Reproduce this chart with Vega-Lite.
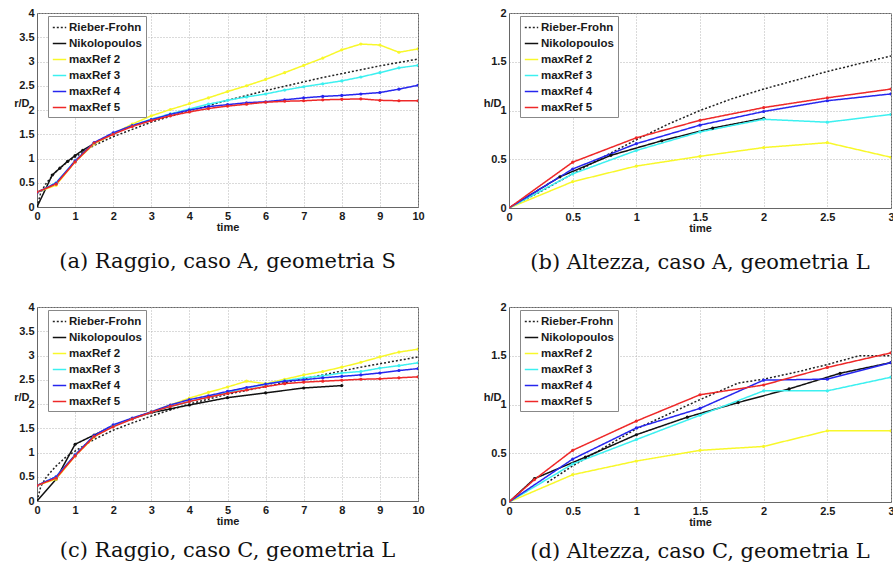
{
  "$schema": "https://vega.github.io/schema/vega-lite/v6.json",
  "padding": {"left": 13, "top": 6, "right": 0, "bottom": 0},
  "background": "white",
  "datasets": {
    "a": [
      {"s":"Rieber-Frohn","t":0,"v":0},{"s":"Rieber-Frohn","t":0.1,"v":0.3},{"s":"Rieber-Frohn","t":0.25,"v":0.5},{"s":"Rieber-Frohn","t":0.5,"v":0.73},{"s":"Rieber-Frohn","t":0.75,"v":0.9},{"s":"Rieber-Frohn","t":1,"v":1.03},{"s":"Rieber-Frohn","t":1.5,"v":1.27},{"s":"Rieber-Frohn","t":2,"v":1.45},{"s":"Rieber-Frohn","t":2.5,"v":1.6},{"s":"Rieber-Frohn","t":3,"v":1.75},{"s":"Rieber-Frohn","t":3.5,"v":1.87},{"s":"Rieber-Frohn","t":4,"v":1.98},{"s":"Rieber-Frohn","t":4.5,"v":2.09},{"s":"Rieber-Frohn","t":5,"v":2.2},{"s":"Rieber-Frohn","t":5.5,"v":2.3},{"s":"Rieber-Frohn","t":6,"v":2.4},{"s":"Rieber-Frohn","t":6.5,"v":2.49},{"s":"Rieber-Frohn","t":7,"v":2.58},{"s":"Rieber-Frohn","t":7.5,"v":2.67},{"s":"Rieber-Frohn","t":8,"v":2.75},{"s":"Rieber-Frohn","t":8.5,"v":2.83},{"s":"Rieber-Frohn","t":9,"v":2.91},{"s":"Rieber-Frohn","t":9.5,"v":2.98},{"s":"Rieber-Frohn","t":10,"v":3.05},
      {"s":"Nikolopoulos","t":0,"v":0},{"s":"Nikolopoulos","t":0.4,"v":0.66},{"s":"Nikolopoulos","t":0.6,"v":0.8},{"s":"Nikolopoulos","t":0.8,"v":0.94},{"s":"Nikolopoulos","t":1.0,"v":1.06},{"s":"Nikolopoulos","t":1.2,"v":1.17},{"s":"Nikolopoulos","t":1.5,"v":1.31},
      {"s":"maxRef 2","t":0,"v":0.3},{"s":"maxRef 2","t":0.5,"v":0.45},{"s":"maxRef 2","t":1,"v":0.93},{"s":"maxRef 2","t":1.5,"v":1.3},{"s":"maxRef 2","t":2,"v":1.51},{"s":"maxRef 2","t":2.5,"v":1.71},{"s":"maxRef 2","t":3,"v":1.88},{"s":"maxRef 2","t":3.5,"v":2.01},{"s":"maxRef 2","t":4,"v":2.13},{"s":"maxRef 2","t":4.5,"v":2.25},{"s":"maxRef 2","t":5,"v":2.38},{"s":"maxRef 2","t":5.5,"v":2.5},{"s":"maxRef 2","t":6,"v":2.63},{"s":"maxRef 2","t":6.5,"v":2.77},{"s":"maxRef 2","t":7,"v":2.92},{"s":"maxRef 2","t":7.5,"v":3.07},{"s":"maxRef 2","t":8,"v":3.24},{"s":"maxRef 2","t":8.5,"v":3.36},{"s":"maxRef 2","t":9,"v":3.34},{"s":"maxRef 2","t":9.5,"v":3.19},{"s":"maxRef 2","t":10,"v":3.26},
      {"s":"maxRef 3","t":0,"v":0.3},{"s":"maxRef 3","t":0.5,"v":0.5},{"s":"maxRef 3","t":1,"v":0.95},{"s":"maxRef 3","t":1.5,"v":1.32},{"s":"maxRef 3","t":2,"v":1.52},{"s":"maxRef 3","t":2.5,"v":1.68},{"s":"maxRef 3","t":3,"v":1.81},{"s":"maxRef 3","t":3.5,"v":1.92},{"s":"maxRef 3","t":4,"v":2.02},{"s":"maxRef 3","t":4.5,"v":2.12},{"s":"maxRef 3","t":5,"v":2.2},{"s":"maxRef 3","t":5.5,"v":2.27},{"s":"maxRef 3","t":6,"v":2.33},{"s":"maxRef 3","t":6.5,"v":2.41},{"s":"maxRef 3","t":7,"v":2.48},{"s":"maxRef 3","t":7.5,"v":2.54},{"s":"maxRef 3","t":8,"v":2.6},{"s":"maxRef 3","t":8.5,"v":2.68},{"s":"maxRef 3","t":9,"v":2.77},{"s":"maxRef 3","t":9.5,"v":2.87},{"s":"maxRef 3","t":10,"v":2.92},
      {"s":"maxRef 4","t":0,"v":0.3},{"s":"maxRef 4","t":0.5,"v":0.49},{"s":"maxRef 4","t":1,"v":0.95},{"s":"maxRef 4","t":1.5,"v":1.33},{"s":"maxRef 4","t":2,"v":1.53},{"s":"maxRef 4","t":2.5,"v":1.68},{"s":"maxRef 4","t":3,"v":1.8},{"s":"maxRef 4","t":3.5,"v":1.91},{"s":"maxRef 4","t":4,"v":2.0},{"s":"maxRef 4","t":4.5,"v":2.07},{"s":"maxRef 4","t":5,"v":2.11},{"s":"maxRef 4","t":5.5,"v":2.15},{"s":"maxRef 4","t":6,"v":2.17},{"s":"maxRef 4","t":6.5,"v":2.21},{"s":"maxRef 4","t":7,"v":2.25},{"s":"maxRef 4","t":7.5,"v":2.28},{"s":"maxRef 4","t":8,"v":2.3},{"s":"maxRef 4","t":8.5,"v":2.33},{"s":"maxRef 4","t":9,"v":2.36},{"s":"maxRef 4","t":9.5,"v":2.43},{"s":"maxRef 4","t":10,"v":2.51},
      {"s":"maxRef 5","t":0,"v":0.31},{"s":"maxRef 5","t":0.5,"v":0.47},{"s":"maxRef 5","t":1,"v":0.93},{"s":"maxRef 5","t":1.5,"v":1.32},{"s":"maxRef 5","t":2,"v":1.5},{"s":"maxRef 5","t":2.5,"v":1.66},{"s":"maxRef 5","t":3,"v":1.78},{"s":"maxRef 5","t":3.5,"v":1.88},{"s":"maxRef 5","t":4,"v":1.96},{"s":"maxRef 5","t":4.5,"v":2.03},{"s":"maxRef 5","t":5,"v":2.08},{"s":"maxRef 5","t":5.5,"v":2.12},{"s":"maxRef 5","t":6,"v":2.16},{"s":"maxRef 5","t":6.5,"v":2.18},{"s":"maxRef 5","t":7,"v":2.19},{"s":"maxRef 5","t":7.5,"v":2.21},{"s":"maxRef 5","t":8,"v":2.22},{"s":"maxRef 5","t":8.5,"v":2.23},{"s":"maxRef 5","t":9,"v":2.2},{"s":"maxRef 5","t":9.5,"v":2.19},{"s":"maxRef 5","t":10,"v":2.19}
    ],
    "b": [
      {"s":"Rieber-Frohn","t":0,"v":0},{"s":"Rieber-Frohn","t":0.25,"v":0.17},{"s":"Rieber-Frohn","t":0.5,"v":0.35},{"s":"Rieber-Frohn","t":0.75,"v":0.53},{"s":"Rieber-Frohn","t":1,"v":0.7},{"s":"Rieber-Frohn","t":1.25,"v":0.86},{"s":"Rieber-Frohn","t":1.5,"v":1.0},{"s":"Rieber-Frohn","t":1.75,"v":1.12},{"s":"Rieber-Frohn","t":2,"v":1.22},{"s":"Rieber-Frohn","t":2.25,"v":1.31},{"s":"Rieber-Frohn","t":2.5,"v":1.4},{"s":"Rieber-Frohn","t":2.75,"v":1.48},{"s":"Rieber-Frohn","t":3,"v":1.56},
      {"s":"Nikolopoulos","t":0,"v":0},{"s":"Nikolopoulos","t":0.4,"v":0.32},{"s":"Nikolopoulos","t":0.8,"v":0.54},{"s":"Nikolopoulos","t":1.2,"v":0.69},{"s":"Nikolopoulos","t":1.6,"v":0.82},{"s":"Nikolopoulos","t":2.0,"v":0.92},
      {"s":"maxRef 2","t":0,"v":0},{"s":"maxRef 2","t":0.5,"v":0.27},{"s":"maxRef 2","t":1,"v":0.43},{"s":"maxRef 2","t":1.5,"v":0.53},{"s":"maxRef 2","t":2,"v":0.62},{"s":"maxRef 2","t":2.5,"v":0.67},{"s":"maxRef 2","t":3,"v":0.52},
      {"s":"maxRef 3","t":0,"v":0},{"s":"maxRef 3","t":0.5,"v":0.35},{"s":"maxRef 3","t":1,"v":0.59},{"s":"maxRef 3","t":1.5,"v":0.78},{"s":"maxRef 3","t":2,"v":0.91},{"s":"maxRef 3","t":2.5,"v":0.88},{"s":"maxRef 3","t":3,"v":0.96},
      {"s":"maxRef 4","t":0,"v":0},{"s":"maxRef 4","t":0.5,"v":0.4},{"s":"maxRef 4","t":1,"v":0.66},{"s":"maxRef 4","t":1.5,"v":0.85},{"s":"maxRef 4","t":2,"v":0.99},{"s":"maxRef 4","t":2.5,"v":1.1},{"s":"maxRef 4","t":3,"v":1.17},
      {"s":"maxRef 5","t":0,"v":0},{"s":"maxRef 5","t":0.5,"v":0.47},{"s":"maxRef 5","t":1,"v":0.72},{"s":"maxRef 5","t":1.5,"v":0.9},{"s":"maxRef 5","t":2,"v":1.03},{"s":"maxRef 5","t":2.5,"v":1.13},{"s":"maxRef 5","t":3,"v":1.22}
    ],
    "c": [
      {"s":"Rieber-Frohn","t":0,"v":0},{"s":"Rieber-Frohn","t":0.1,"v":0.3},{"s":"Rieber-Frohn","t":0.25,"v":0.5},{"s":"Rieber-Frohn","t":0.5,"v":0.72},{"s":"Rieber-Frohn","t":0.75,"v":0.9},{"s":"Rieber-Frohn","t":1,"v":1.03},{"s":"Rieber-Frohn","t":1.5,"v":1.27},{"s":"Rieber-Frohn","t":2,"v":1.46},{"s":"Rieber-Frohn","t":2.5,"v":1.61},{"s":"Rieber-Frohn","t":3,"v":1.75},{"s":"Rieber-Frohn","t":3.5,"v":1.88},{"s":"Rieber-Frohn","t":4,"v":2.0},{"s":"Rieber-Frohn","t":4.5,"v":2.1},{"s":"Rieber-Frohn","t":5,"v":2.2},{"s":"Rieber-Frohn","t":5.5,"v":2.28},{"s":"Rieber-Frohn","t":6,"v":2.36},{"s":"Rieber-Frohn","t":6.5,"v":2.44},{"s":"Rieber-Frohn","t":7,"v":2.52},{"s":"Rieber-Frohn","t":7.5,"v":2.6},{"s":"Rieber-Frohn","t":8,"v":2.68},{"s":"Rieber-Frohn","t":8.5,"v":2.76},{"s":"Rieber-Frohn","t":9,"v":2.83},{"s":"Rieber-Frohn","t":9.5,"v":2.9},{"s":"Rieber-Frohn","t":10,"v":2.97},
      {"s":"Nikolopoulos","t":0,"v":0},{"s":"Nikolopoulos","t":0.5,"v":0.45},{"s":"Nikolopoulos","t":1,"v":1.17},{"s":"Nikolopoulos","t":1.5,"v":1.36},{"s":"Nikolopoulos","t":2,"v":1.55},{"s":"Nikolopoulos","t":2.5,"v":1.7},{"s":"Nikolopoulos","t":3,"v":1.82},{"s":"Nikolopoulos","t":3.5,"v":1.9},{"s":"Nikolopoulos","t":4,"v":1.98},{"s":"Nikolopoulos","t":5,"v":2.13},{"s":"Nikolopoulos","t":6,"v":2.23},{"s":"Nikolopoulos","t":7,"v":2.33},{"s":"Nikolopoulos","t":8,"v":2.38},
      {"s":"maxRef 2","t":0,"v":0.32},{"s":"maxRef 2","t":0.5,"v":0.45},{"s":"maxRef 2","t":1,"v":0.93},{"s":"maxRef 2","t":1.5,"v":1.32},{"s":"maxRef 2","t":2,"v":1.55},{"s":"maxRef 2","t":2.5,"v":1.7},{"s":"maxRef 2","t":3,"v":1.84},{"s":"maxRef 2","t":3.5,"v":1.98},{"s":"maxRef 2","t":4,"v":2.12},{"s":"maxRef 2","t":4.5,"v":2.24},{"s":"maxRef 2","t":5,"v":2.35},{"s":"maxRef 2","t":5.5,"v":2.47},{"s":"maxRef 2","t":6,"v":2.42},{"s":"maxRef 2","t":6.5,"v":2.51},{"s":"maxRef 2","t":7,"v":2.6},{"s":"maxRef 2","t":7.5,"v":2.67},{"s":"maxRef 2","t":8,"v":2.76},{"s":"maxRef 2","t":8.5,"v":2.86},{"s":"maxRef 2","t":9,"v":2.97},{"s":"maxRef 2","t":9.5,"v":3.07},{"s":"maxRef 2","t":10,"v":3.13},
      {"s":"maxRef 3","t":0,"v":0.32},{"s":"maxRef 3","t":0.5,"v":0.5},{"s":"maxRef 3","t":1,"v":0.95},{"s":"maxRef 3","t":1.5,"v":1.34},{"s":"maxRef 3","t":2,"v":1.56},{"s":"maxRef 3","t":2.5,"v":1.7},{"s":"maxRef 3","t":3,"v":1.83},{"s":"maxRef 3","t":3.5,"v":1.95},{"s":"maxRef 3","t":4,"v":2.05},{"s":"maxRef 3","t":4.5,"v":2.15},{"s":"maxRef 3","t":5,"v":2.24},{"s":"maxRef 3","t":5.5,"v":2.33},{"s":"maxRef 3","t":6,"v":2.41},{"s":"maxRef 3","t":6.5,"v":2.48},{"s":"maxRef 3","t":7,"v":2.54},{"s":"maxRef 3","t":7.5,"v":2.58},{"s":"maxRef 3","t":8,"v":2.64},{"s":"maxRef 3","t":8.5,"v":2.67},{"s":"maxRef 3","t":9,"v":2.74},{"s":"maxRef 3","t":9.5,"v":2.79},{"s":"maxRef 3","t":10,"v":2.85},
      {"s":"maxRef 4","t":0,"v":0.32},{"s":"maxRef 4","t":0.5,"v":0.5},{"s":"maxRef 4","t":1,"v":0.95},{"s":"maxRef 4","t":1.5,"v":1.35},{"s":"maxRef 4","t":2,"v":1.57},{"s":"maxRef 4","t":2.5,"v":1.71},{"s":"maxRef 4","t":3,"v":1.84},{"s":"maxRef 4","t":3.5,"v":1.98},{"s":"maxRef 4","t":4,"v":2.09},{"s":"maxRef 4","t":4.5,"v":2.17},{"s":"maxRef 4","t":5,"v":2.26},{"s":"maxRef 4","t":5.5,"v":2.34},{"s":"maxRef 4","t":6,"v":2.41},{"s":"maxRef 4","t":6.5,"v":2.47},{"s":"maxRef 4","t":7,"v":2.5},{"s":"maxRef 4","t":7.5,"v":2.54},{"s":"maxRef 4","t":8,"v":2.57},{"s":"maxRef 4","t":8.5,"v":2.6},{"s":"maxRef 4","t":9,"v":2.64},{"s":"maxRef 4","t":9.5,"v":2.69},{"s":"maxRef 4","t":10,"v":2.73},
      {"s":"maxRef 5","t":0,"v":0.32},{"s":"maxRef 5","t":0.5,"v":0.47},{"s":"maxRef 5","t":1,"v":0.93},{"s":"maxRef 5","t":1.5,"v":1.33},{"s":"maxRef 5","t":2,"v":1.53},{"s":"maxRef 5","t":2.5,"v":1.69},{"s":"maxRef 5","t":3,"v":1.83},{"s":"maxRef 5","t":3.5,"v":1.95},{"s":"maxRef 5","t":4,"v":2.05},{"s":"maxRef 5","t":4.5,"v":2.14},{"s":"maxRef 5","t":5,"v":2.22},{"s":"maxRef 5","t":5.5,"v":2.29},{"s":"maxRef 5","t":6,"v":2.36},{"s":"maxRef 5","t":6.5,"v":2.42},{"s":"maxRef 5","t":7,"v":2.45},{"s":"maxRef 5","t":7.5,"v":2.47},{"s":"maxRef 5","t":8,"v":2.49},{"s":"maxRef 5","t":8.5,"v":2.51},{"s":"maxRef 5","t":9,"v":2.52},{"s":"maxRef 5","t":9.5,"v":2.54},{"s":"maxRef 5","t":10,"v":2.56}
    ],
    "d": [
      {"s":"Rieber-Frohn","t":0.3,"v":0.2},{"s":"Rieber-Frohn","t":0.5,"v":0.37},{"s":"Rieber-Frohn","t":0.75,"v":0.56},{"s":"Rieber-Frohn","t":1,"v":0.75},{"s":"Rieber-Frohn","t":1.25,"v":0.9},{"s":"Rieber-Frohn","t":1.5,"v":1.05},{"s":"Rieber-Frohn","t":1.8,"v":1.22},{"s":"Rieber-Frohn","t":2,"v":1.26},{"s":"Rieber-Frohn","t":2.25,"v":1.33},{"s":"Rieber-Frohn","t":2.5,"v":1.41},{"s":"Rieber-Frohn","t":2.75,"v":1.5},{"s":"Rieber-Frohn","t":3,"v":1.5},
      {"s":"Nikolopoulos","t":0,"v":0},{"s":"Nikolopoulos","t":0.2,"v":0.24},{"s":"Nikolopoulos","t":0.6,"v":0.46},{"s":"Nikolopoulos","t":1.0,"v":0.69},{"s":"Nikolopoulos","t":1.4,"v":0.87},{"s":"Nikolopoulos","t":1.8,"v":1.02},{"s":"Nikolopoulos","t":2.2,"v":1.16},{"s":"Nikolopoulos","t":2.6,"v":1.32},{"s":"Nikolopoulos","t":3.0,"v":1.43},
      {"s":"maxRef 2","t":0,"v":0},{"s":"maxRef 2","t":0.5,"v":0.28},{"s":"maxRef 2","t":1,"v":0.42},{"s":"maxRef 2","t":1.5,"v":0.53},{"s":"maxRef 2","t":2,"v":0.57},{"s":"maxRef 2","t":2.5,"v":0.73},{"s":"maxRef 2","t":3,"v":0.73},
      {"s":"maxRef 3","t":0,"v":0},{"s":"maxRef 3","t":0.5,"v":0.39},{"s":"maxRef 3","t":1,"v":0.64},{"s":"maxRef 3","t":1.5,"v":0.89},{"s":"maxRef 3","t":2,"v":1.14},{"s":"maxRef 3","t":2.5,"v":1.14},{"s":"maxRef 3","t":3,"v":1.28},
      {"s":"maxRef 4","t":0,"v":0},{"s":"maxRef 4","t":0.5,"v":0.44},{"s":"maxRef 4","t":1,"v":0.76},{"s":"maxRef 4","t":1.5,"v":0.96},{"s":"maxRef 4","t":2,"v":1.25},{"s":"maxRef 4","t":2.5,"v":1.26},{"s":"maxRef 4","t":3,"v":1.43},
      {"s":"maxRef 5","t":0,"v":0},{"s":"maxRef 5","t":0.2,"v":0.23},{"s":"maxRef 5","t":0.5,"v":0.53},{"s":"maxRef 5","t":1,"v":0.83},{"s":"maxRef 5","t":1.5,"v":1.1},{"s":"maxRef 5","t":2,"v":1.2},{"s":"maxRef 5","t":2.5,"v":1.38},{"s":"maxRef 5","t":3,"v":1.53}
    ]
  },
  "columns": 2,
  "spacing": {"row": 26, "column": 57},
  "resolve": {"scale": {"color": "independent", "strokeDash": "independent", "x": "independent", "y": "independent"}, "legend": {"color": "independent", "strokeDash": "independent"}},
  "concat": [
    {
      "width": 381, "height": 194,
      "title": {"text": "(a) Raggio, caso A, geometria S"},
      "data": {"name": "a"},
      "encoding": {
        "x": {"field": "t", "type": "quantitative", "scale": {"domain": [0, 10], "nice": false}, "axis": {"values": [0,1,2,3,4,5,6,7,8,9,10], "title": "time"}},
        "y": {"field": "v", "type": "quantitative", "scale": {"domain": [0, 4], "nice": false}, "axis": {"values": [0,0.5,1,1.5,2,2.5,3,3.5,4], "title": "r/D"}}
      },
      "layer": [
        {"mark": {"type": "line", "strokeWidth": 1.5, "clip": true},
         "encoding": {
           "color": {"field": "s", "type": "nominal", "scale": {"domain": ["Rieber-Frohn","Nikolopoulos","maxRef 2","maxRef 3","maxRef 4","maxRef 5"], "range": ["#222222","#111111","#f8f82a","#3cf0f0","#2626ee","#ee2828"]}, "legend": {"orient": "none", "legendX": 11, "legendY": 3, "title": null}},
           "strokeDash": {"field": "s", "type": "nominal", "scale": {"domain": ["Rieber-Frohn","Nikolopoulos","maxRef 2","maxRef 3","maxRef 4","maxRef 5"], "range": [[2,2],[1,0],[1,0],[1,0],[1,0],[1,0]]}, "legend": {"orient": "none", "legendX": 11, "legendY": 3, "title": null}}
         }},
        {"transform": [{"filter": "datum.s !== 'Rieber-Frohn'"}],
         "mark": {"type": "point", "filled": true, "size": 10, "opacity": 1, "clip": true},
         "encoding": {"color": {"field": "s", "type": "nominal", "legend": null}}}
      ]
    },
    {
      "width": 382, "height": 195,
      "title": {"text": "(b) Altezza, caso A, geometria L"},
      "data": {"name": "b"},
      "encoding": {
        "x": {"field": "t", "type": "quantitative", "scale": {"domain": [0, 3], "nice": false}, "axis": {"values": [0,0.5,1,1.5,2,2.5,3], "title": "time"}},
        "y": {"field": "v", "type": "quantitative", "scale": {"domain": [0, 2], "nice": false}, "axis": {"values": [0,0.5,1,1.5,2], "title": "h/D"}}
      },
      "layer": [
        {"mark": {"type": "line", "strokeWidth": 1.5, "clip": true},
         "encoding": {
           "color": {"field": "s", "type": "nominal", "scale": {"domain": ["Rieber-Frohn","Nikolopoulos","maxRef 2","maxRef 3","maxRef 4","maxRef 5"], "range": ["#222222","#111111","#f8f82a","#3cf0f0","#2626ee","#ee2828"]}, "legend": {"orient": "none", "legendX": 11, "legendY": 3, "title": null}},
           "strokeDash": {"field": "s", "type": "nominal", "scale": {"domain": ["Rieber-Frohn","Nikolopoulos","maxRef 2","maxRef 3","maxRef 4","maxRef 5"], "range": [[2,2],[1,0],[1,0],[1,0],[1,0],[1,0]]}, "legend": {"orient": "none", "legendX": 11, "legendY": 3, "title": null}}
         }},
        {"transform": [{"filter": "datum.s !== 'Rieber-Frohn'"}],
         "mark": {"type": "point", "filled": true, "size": 10, "opacity": 1, "clip": true},
         "encoding": {"color": {"field": "s", "type": "nominal", "legend": null}}}
      ]
    },
    {
      "width": 381, "height": 194,
      "title": {"text": "(c) Raggio, caso C, geometria L", "offset": 14},
      "data": {"name": "c"},
      "encoding": {
        "x": {"field": "t", "type": "quantitative", "scale": {"domain": [0, 10], "nice": false}, "axis": {"values": [0,1,2,3,4,5,6,7,8,9,10], "title": "time"}},
        "y": {"field": "v", "type": "quantitative", "scale": {"domain": [0, 4], "nice": false}, "axis": {"values": [0,0.5,1,1.5,2,2.5,3,3.5,4], "title": "r/D"}}
      },
      "layer": [
        {"mark": {"type": "line", "strokeWidth": 1.5, "clip": true},
         "encoding": {
           "color": {"field": "s", "type": "nominal", "scale": {"domain": ["Rieber-Frohn","Nikolopoulos","maxRef 2","maxRef 3","maxRef 4","maxRef 5"], "range": ["#222222","#111111","#f8f82a","#3cf0f0","#2626ee","#ee2828"]}, "legend": {"orient": "none", "legendX": 11, "legendY": 3, "title": null}},
           "strokeDash": {"field": "s", "type": "nominal", "scale": {"domain": ["Rieber-Frohn","Nikolopoulos","maxRef 2","maxRef 3","maxRef 4","maxRef 5"], "range": [[2,2],[1,0],[1,0],[1,0],[1,0],[1,0]]}, "legend": {"orient": "none", "legendX": 11, "legendY": 3, "title": null}}
         }},
        {"transform": [{"filter": "datum.s !== 'Rieber-Frohn'"}],
         "mark": {"type": "point", "filled": true, "size": 10, "opacity": 1, "clip": true},
         "encoding": {"color": {"field": "s", "type": "nominal", "legend": null}}}
      ]
    },
    {
      "width": 382, "height": 195,
      "title": {"text": "(d) Altezza, caso C, geometria L", "offset": 14},
      "data": {"name": "d"},
      "encoding": {
        "x": {"field": "t", "type": "quantitative", "scale": {"domain": [0, 3], "nice": false}, "axis": {"values": [0,0.5,1,1.5,2,2.5,3], "title": "time"}},
        "y": {"field": "v", "type": "quantitative", "scale": {"domain": [0, 2], "nice": false}, "axis": {"values": [0,0.5,1,1.5,2], "title": "h/D"}}
      },
      "layer": [
        {"mark": {"type": "line", "strokeWidth": 1.5, "clip": true},
         "encoding": {
           "color": {"field": "s", "type": "nominal", "scale": {"domain": ["Rieber-Frohn","Nikolopoulos","maxRef 2","maxRef 3","maxRef 4","maxRef 5"], "range": ["#222222","#111111","#f8f82a","#3cf0f0","#2626ee","#ee2828"]}, "legend": {"orient": "none", "legendX": 11, "legendY": 3, "title": null}},
           "strokeDash": {"field": "s", "type": "nominal", "scale": {"domain": ["Rieber-Frohn","Nikolopoulos","maxRef 2","maxRef 3","maxRef 4","maxRef 5"], "range": [[2,2],[1,0],[1,0],[1,0],[1,0],[1,0]]}, "legend": {"orient": "none", "legendX": 11, "legendY": 3, "title": null}}
         }},
        {"transform": [{"filter": "datum.s !== 'Rieber-Frohn'"}],
         "mark": {"type": "point", "filled": true, "size": 10, "opacity": 1, "clip": true},
         "encoding": {"color": {"field": "s", "type": "nominal", "legend": null}}}
      ]
    }
  ],
  "config": {
    "view": {"stroke": "#666666", "strokeWidth": 1},
    "axis": {
      "labelFont": "Liberation Sans", "labelFontWeight": "bold", "labelFontSize": 11, "labelColor": "#1a1a1a",
      "titleFont": "Liberation Sans", "titleFontWeight": "bold", "titleFontSize": 11, "titleColor": "#1a1a1a",
      "grid": true, "gridColor": "#b4b4b4", "gridDash": [1, 2], "gridWidth": 1,
      "domainColor": "#666666", "ticks": false, "labelPadding": 3, "labelFlush": false, "format": "~r", "labelOverlap": false
    },
    "axisX": {"titlePadding": 0},
    "axisY": {"titleAngle": 0, "titleAlign": "right", "titleBaseline": "middle", "titleX": -8, "titleY": 90},
    "legend": {
      "labelFont": "Liberation Sans", "labelFontWeight": "bold", "labelFontSize": 11.5, "labelColor": "#1a1a1a",
      "strokeColor": "#888888", "fillColor": "white", "padding": 4, "rowPadding": 3, "symbolSize": 180,
      "symbolStrokeWidth": 1.5, "symbolType": "stroke", "labelOffset": 2, "cornerRadius": 0
    },
    "title": {"font": "DejaVu Serif", "fontSize": 21, "fontWeight": "normal", "color": "#111111", "orient": "bottom", "offset": 19, "anchor": "middle"}
  }
}
